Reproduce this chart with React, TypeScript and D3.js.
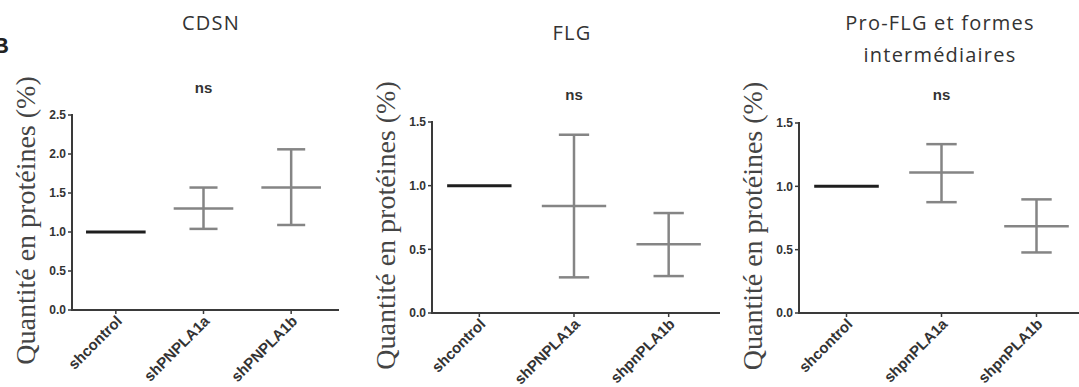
import * as d3 from "d3"

const W = 1079
const H = 387

// categories per panel (labels as printed under each axis)
const cdsnCats = ["shcontrol", "shPNPLA1a", "shPNPLA1b"]
const flgCats = ["shcontrol", "shPNPLA1a", "shpnPLA1b"]
const proCats = ["shcontrol", "shpnPLA1a", "shpnPLA1b"]

// mean and error bar ends (relative protein quantity)
const cdsnMean = [1.0, 1.3, 1.57]
const cdsnLow = [1.0, 1.04, 1.09]
const cdsnHigh = [1.0, 1.57, 2.06]

const flgMean = [1.0, 0.84, 0.54]
const flgLow = [1.0, 0.28, 0.29]
const flgHigh = [1.0, 1.4, 0.785]

const proMean = [1.0, 1.11, 0.685]
const proLow = [1.0, 0.875, 0.478]
const proHigh = [1.0, 1.333, 0.897]

const yTicksBig = [0, 0.5, 1.0, 1.5, 2.0, 2.5]
const yTicksSmall = [0, 0.5, 1.0, 1.5]

const Y_LABEL = "Quantité en protéines (%)"

interface PanelProps {
  title: string[]
  titleX: number
  titleY: number
  nsY: number
  cats: string[]
  mean: number[]
  low: number[]
  high: number[]
  ticks: number[]
  x0: number
  x1: number
  y0: number
  y1: number
}

function Panel({ title, titleX, titleY, nsY, cats, mean, low, high, ticks, x0, x1, y0, y1 }: PanelProps) {
  const x = d3.scalePoint<string>().domain(cats).range([x0, x1]).padding(0.5)
  const y = d3.scaleLinear().domain([0, ticks[ticks.length - 1]]).range([y0, y1])
  const step = x.step()
  const meanHalf = step * 0.34
  const capHalf = step * 0.16

  return (
    <g>
      {title.map((t, i) => (
        <text key={i} x={titleX} y={titleY + i * 32} textAnchor="middle" letterSpacing={1.2}
          fontFamily="'Open Sans', sans-serif" fontSize={20} fill="#333">{t}</text>
      ))}
      <text x={x(cats[1])} y={nsY} textAnchor="middle"
        fontFamily="'Liberation Sans', Arial, sans-serif" fontWeight={700} fontSize={15} fill="#333">ns</text>

      <text transform={`translate(${x0 - 37},${(y0 + y1) / 2 + 8}) rotate(-90)`} textAnchor="middle"
        fontFamily="'Liberation Serif', 'Times New Roman', serif" fontSize={28} fill="#444">{Y_LABEL}</text>

      {/* axes */}
      <line x1={x0} x2={x0} y1={y1 - 1} y2={y0} stroke="#3a3a3a" strokeWidth={2} />
      <line x1={x0 - 1} x2={x1 + 4} y1={y0} y2={y0} stroke="#3a3a3a" strokeWidth={2} />
      {ticks.map((t) => (
        <g key={t}>
          <line x1={x0 - 4} x2={x0} y1={y(t)} y2={y(t)} stroke="#3a3a3a" strokeWidth={1.5} />
          <text x={x0 - 6} y={y(t)} dy="0.35em" textAnchor="end"
            fontFamily="'Liberation Sans', Arial, sans-serif" fontWeight={700} fontSize={12} fill="#333">
            {t.toFixed(1)}
          </text>
        </g>
      ))}
      {cats.map((c) => (
        <g key={c}>
          <line x1={x(c)} x2={x(c)} y1={y0} y2={y0 + 4} stroke="#3a3a3a" strokeWidth={1.5} />
          <text transform={`translate(${(x(c) ?? 0) + 7},${y0 + 12}) rotate(-45)`} textAnchor="end"
            fontFamily="'Liberation Sans', Arial, sans-serif" fontWeight={700} fontSize={15} fill="#333">{c}</text>
        </g>
      ))}

      {/* control: single black line */}
      <line x1={(x(cats[0]) ?? 0) - meanHalf} x2={(x(cats[0]) ?? 0) + meanHalf}
        y1={y(mean[0])} y2={y(mean[0])} stroke="#1e1e1e" strokeWidth={3} />

      {/* mean ± error bars */}
      {cats.slice(1).map((c, j) => {
        const i = j + 1
        const px = x(c) ?? 0
        return (
          <g key={c} stroke="#858585" strokeWidth={2.5}>
            <line x1={px} x2={px} y1={y(low[i])} y2={y(high[i])} />
            <line x1={px - meanHalf} x2={px + meanHalf} y1={y(mean[i])} y2={y(mean[i])} />
            <line x1={px - capHalf} x2={px + capHalf} y1={y(high[i])} y2={y(high[i])} />
            <line x1={px - capHalf} x2={px + capHalf} y1={y(low[i])} y2={y(low[i])} />
          </g>
        )
      })}
    </g>
  )
}

export default function App() {
  return (
    <svg width={W} height={H} style={{ position: "absolute", left: 0, top: 0, background: "#fff" }}>
      <text x={-7} y={53} fontFamily="'Liberation Sans', Arial, sans-serif" fontWeight={700} fontSize={22} fill="#222">B</text>
      <Panel title={["CDSN"]} titleX={211} titleY={30} nsY={93} cats={cdsnCats} mean={cdsnMean} low={cdsnLow} high={cdsnHigh}
        ticks={yTicksBig} x0={72} x1={335} y0={310} y1={115} />
      <Panel title={["FLG"]} titleX={572} titleY={40} nsY={100} cats={flgCats} mean={flgMean} low={flgLow} high={flgHigh}
        ticks={yTicksSmall} x0={432} x1={716} y0={313} y1={122} />
      <Panel title={["Pro-FLG et formes", "intermédiaires"]} titleX={940} titleY={30} nsY={100} cats={proCats} mean={proMean} low={proLow} high={proHigh}
        ticks={yTicksSmall} x0={799} x1={1084} y0={313} y1={123} />
    </svg>
  )
}
